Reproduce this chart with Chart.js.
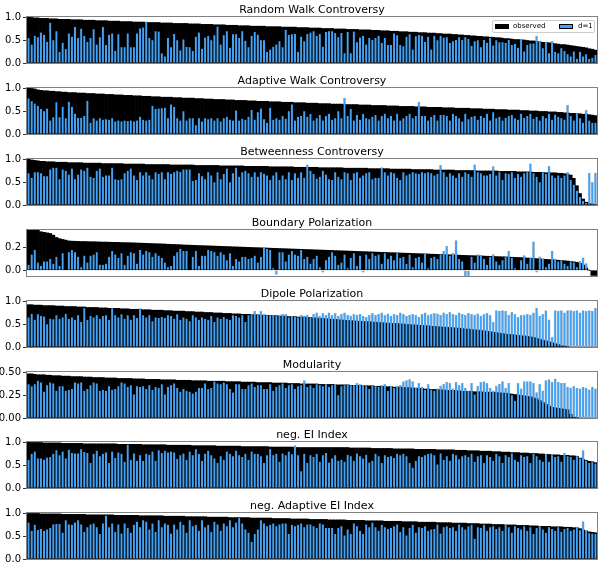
<!DOCTYPE html>
<html>
<head>
<meta charset="utf-8">
<script src="https://cdn.jsdelivr.net/npm/chart.js@4.4.1/dist/chart.umd.min.js"></script>
<style>
  body { margin: 0; background: #fff; }
  #figure { position: relative; width: 598px; height: 569px; overflow: hidden; font-family: "DejaVu Sans", sans-serif; }
  .panel { position: absolute; left: 0; width: 598px; height: 71px; }
  .panel canvas { position: absolute; left: 0; top: 0; }
  .title { position: absolute; left: 27px; width: 570px; top: 3px; text-align: center; font-size: 11px; line-height: 13px; color: #000; white-space: nowrap; }
  .legend { position: absolute; left: 492px; top: 20px; width: 101px; height: 11px; border: 1px solid #cccccc; border-radius: 2px; background: rgba(255,255,255,0.85); font-size: 7px; line-height: 11px; color: #000; }
  .legend .patch { position: absolute; top: 3px; width: 14px; height: 5px; box-sizing: border-box; }
  .legend .label { position: absolute; top: 0; white-space: nowrap; }
</style>
</head>
<body>
<div id="figure"></div>
<script>
// panel titles and axis settings
const titles = [
  "Random Walk Controversy", "Adaptive Walk Controversy", "Betweenness Controversy",
  "Boundary Polarization", "Dipole Polarization", "Modularity",
  "neg. EI Index", "neg. Adaptive EI Index"
];
const yMins = [0, 0, 0, -0.05, 0, 0, 0, 0];
const yMaxs = [1, 1, 1, 0.35, 1, 0.5, 1, 1];
const yTicks = [
  [0, 0.5, 1], [0, 0.5, 1], [0, 0.5, 1], [0, 0.2],
  [0, 0.5, 1], [0, 0.25, 0.5], [0, 0.5, 1], [0, 0.5, 1]
];
const tickDecimals = [1, 1, 1, 1, 1, 2, 1, 1];
const seriesNames = ["observed", "d=1"];

// Random Walk Controversy
const rwObserved = [
  1.00,0.99,0.98,0.98,0.97,0.97,0.97,0.96,0.96,0.96,
  0.95,0.95,0.95,0.95,0.94,0.94,0.94,0.94,0.93,0.93,
  0.93,0.93,0.92,0.92,0.92,0.92,0.91,0.91,0.91,0.91,
  0.90,0.90,0.90,0.90,0.89,0.89,0.89,0.89,0.88,0.88,
  0.88,0.88,0.88,0.87,0.87,0.87,0.87,0.86,0.86,0.86,
  0.86,0.86,0.85,0.85,0.85,0.85,0.84,0.84,0.84,0.84,
  0.83,0.83,0.83,0.83,0.82,0.82,0.82,0.82,0.81,0.81,
  0.81,0.81,0.80,0.80,0.80,0.80,0.80,0.79,0.79,0.79,
  0.79,0.79,0.78,0.78,0.78,0.78,0.78,0.77,0.77,0.77,
  0.77,0.76,0.76,0.76,0.76,0.75,0.75,0.75,0.75,0.74,
  0.74,0.74,0.74,0.73,0.73,0.73,0.73,0.72,0.72,0.72,
  0.72,0.71,0.71,0.71,0.70,0.70,0.70,0.69,0.69,0.69,
  0.68,0.68,0.68,0.67,0.67,0.67,0.66,0.66,0.66,0.65,
  0.65,0.65,0.64,0.64,0.63,0.63,0.63,0.62,0.62,0.61,
  0.61,0.60,0.60,0.59,0.59,0.58,0.58,0.57,0.57,0.56,
  0.56,0.55,0.55,0.54,0.53,0.53,0.52,0.51,0.51,0.50,
  0.50,0.49,0.48,0.48,0.47,0.46,0.45,0.45,0.44,0.43,
  0.42,0.41,0.40,0.40,0.39,0.38,0.37,0.36,0.35,0.34,
  0.33,0.31,0.30,0.28
];
const rwD1 = [
  0.55,0.41,0.60,0.57,0.67,0.62,0.47,0.88,0.50,0.70,
  0.25,0.45,0.31,0.65,0.58,0.79,0.55,0.75,0.60,0.47,
  0.55,0.74,0.41,0.57,0.79,0.40,0.62,0.65,0.27,0.63,
  0.35,0.35,0.65,0.35,0.35,0.65,0.76,0.78,0.90,0.55,
  0.50,0.70,0.69,0.22,0.15,0.55,0.35,0.64,0.50,0.28,
  0.52,0.36,0.35,0.27,0.58,0.67,0.32,0.56,0.60,0.50,
  0.61,0.80,0.41,0.61,0.70,0.34,0.63,0.63,0.55,0.70,
  0.49,0.35,0.60,0.68,0.62,0.50,0.50,0.25,0.30,0.36,
  0.41,0.48,0.35,0.73,0.62,0.63,0.64,0.25,
  0.58,0.48,0.64,0.67,0.70,0.60,0.64,0.36,0.68,0.70,
  0.70,0.66,0.57,0.66,0.22,0.68,0.22,0.69,0.46,0.56,
  0.60,0.41,0.55,0.51,0.55,0.60,0.44,0.55,0.40,0.40,
  0.65,0.61,0.40,0.37,0.58,0.63,0.30,0.59,0.62,0.60,
  0.47,0.58,0.30,0.60,0.50,0.60,0.56,0.57,0.44,0.48,
  0.51,0.57,0.51,0.57,0.53,0.38,0.48,0.50,0.35,0.51,
  0.45,0.55,0.39,0.50,0.46,0.46,0.44,0.51,0.40,0.42,
  0.34,0.52,0.26,0.40,0.43,0.43,0.59,0.48,0.33,0.47,
  0.22,0.48,0.25,0.22,0.33,0.27,0.20,0.15,0.26,0.10,
  0.25,0.15,0.20,0.10,0.12,0.18
];

// Adaptive Walk Controversy
const awObserved = [
  1.00,0.99,0.98,0.96,0.95,0.94,0.94,0.93,0.93,0.92,
  0.92,0.91,0.91,0.90,0.90,0.90,0.89,0.89,0.89,0.88,
  0.88,0.88,0.87,0.87,0.87,0.86,0.86,0.86,0.85,0.85,
  0.85,0.84,0.84,0.84,0.83,0.83,0.83,0.82,0.82,0.82,
  0.81,0.81,0.81,0.80,0.80,0.80,0.80,0.79,0.79,0.79,
  0.78,0.78,0.78,0.78,0.77,0.77,0.77,0.76,0.76,0.76,
  0.75,0.75,0.75,0.75,0.74,0.74,0.74,0.73,0.73,0.73,
  0.73,0.72,0.72,0.72,0.71,0.71,0.71,0.71,0.70,0.70,
  0.70,0.70,0.69,0.69,0.69,0.69,0.68,0.68,0.68,0.68,
  0.67,0.67,0.67,0.67,0.66,0.66,0.66,0.66,0.65,0.65,
  0.65,0.65,0.64,0.64,0.64,0.64,0.64,0.63,0.63,0.63,
  0.63,0.62,0.62,0.62,0.62,0.62,0.61,0.61,0.61,0.61,
  0.60,0.60,0.60,0.60,0.60,0.59,0.59,0.59,0.59,0.58,
  0.58,0.58,0.58,0.58,0.57,0.57,0.57,0.57,0.56,0.56,
  0.56,0.56,0.56,0.55,0.55,0.55,0.55,0.54,0.54,0.54,
  0.54,0.53,0.53,0.53,0.53,0.52,0.52,0.52,0.52,0.51,
  0.51,0.51,0.50,0.50,0.50,0.49,0.49,0.49,0.48,0.48,
  0.48,0.47,0.47,0.46,0.46,0.45,0.45,0.44,0.44,0.43,
  0.43,0.42,0.41,0.40
];
const awD1 = [
  0.78,0.72,0.67,0.62,0.55,0.50,0.56,0.30,0.37,0.70,
  0.37,0.60,0.35,0.71,0.60,0.45,0.36,0.36,0.40,0.73,
  0.25,0.35,0.30,0.35,0.32,0.33,0.32,0.35,0.28,0.30,
  0.28,0.30,0.29,0.30,0.28,0.30,0.38,0.32,0.30,0.32,
  0.62,0.55,0.56,0.57,0.58,0.35,0.65,0.60,0.35,0.30,
  0.50,0.30,0.35,0.35,0.20,0.35,0.28,0.35,0.33,0.35,
  0.30,0.35,0.28,0.35,0.38,0.32,0.30,0.52,0.30,0.34,
  0.32,0.38,0.53,0.32,0.48,0.56,0.33,0.25,0.58,0.32,
  0.35,0.32,0.40,0.34,0.50,0.65,0.30,0.38,
  0.40,0.50,0.38,0.44,0.30,0.35,0.42,0.30,0.40,0.45,
  0.32,0.35,0.50,0.35,0.78,0.40,0.55,0.30,0.42,0.32,
  0.44,0.35,0.33,0.38,0.42,0.30,0.40,0.45,0.35,0.40,
  0.30,0.45,0.30,0.35,0.40,0.45,0.35,0.40,0.70,0.40,
  0.40,0.30,0.38,0.42,0.30,0.42,0.42,0.40,0.30,0.45,
  0.40,0.35,0.28,0.45,0.33,0.38,0.40,0.32,0.40,0.36,
  0.45,0.30,0.48,0.35,0.38,0.30,0.36,0.40,0.42,0.35,
  0.32,0.45,0.36,0.40,0.44,0.34,0.38,0.30,0.40,0.35,
  0.44,0.32,0.43,0.38,0.35,0.32,0.63,0.40,0.30,0.44,
  0.35,0.25,0.52,0.30,0.25,0.25
];

// Betweenness Controversy
const betObserved = [
  1.00,0.98,0.97,0.96,0.95,0.95,0.94,0.94,0.94,0.93,
  0.93,0.93,0.93,0.92,0.92,0.92,0.92,0.92,0.91,0.91,
  0.91,0.91,0.91,0.91,0.90,0.90,0.90,0.90,0.90,0.90,
  0.90,0.89,0.89,0.89,0.89,0.89,0.89,0.89,0.88,0.88,
  0.88,0.88,0.88,0.88,0.88,0.88,0.87,0.87,0.87,0.87,
  0.87,0.87,0.87,0.87,0.86,0.86,0.86,0.86,0.86,0.86,
  0.86,0.86,0.85,0.85,0.85,0.85,0.85,0.85,0.85,0.85,
  0.84,0.84,0.84,0.84,0.84,0.84,0.84,0.84,0.83,0.83,
  0.83,0.83,0.83,0.83,0.83,0.83,0.82,0.82,0.82,0.82,
  0.82,0.82,0.82,0.82,0.81,0.81,0.81,0.81,0.81,0.81,
  0.81,0.81,0.80,0.80,0.80,0.80,0.80,0.80,0.80,0.80,
  0.79,0.79,0.79,0.79,0.79,0.79,0.79,0.78,0.78,0.78,
  0.78,0.78,0.78,0.78,0.77,0.77,0.77,0.77,0.77,0.77,
  0.77,0.76,0.76,0.76,0.76,0.76,0.76,0.76,0.75,0.75,
  0.75,0.75,0.75,0.75,0.75,0.74,0.74,0.74,0.74,0.74,
  0.74,0.74,0.73,0.73,0.73,0.73,0.73,0.73,0.72,0.72,
  0.72,0.72,0.72,0.71,0.71,0.71,0.71,0.70,0.70,0.70,
  0.70,0.69,0.69,0.68,0.67,0.65,0.58,0.42,0.25,0.13,
  0.06,0.03,0.02,0.01
];
const betD1 = [
  0.70,0.60,0.72,0.72,0.70,0.63,0.63,0.78,0.82,0.82,
  0.57,0.78,0.75,0.67,0.80,0.57,0.67,0.78,0.75,0.82,
  0.62,0.60,0.75,0.80,0.62,0.65,0.65,0.82,0.57,0.55,
  0.57,0.70,0.75,0.80,0.65,0.55,0.72,0.65,0.72,0.65,
  0.57,0.72,0.68,0.72,0.57,0.72,0.68,0.72,0.75,0.73,
  0.78,0.78,0.78,0.53,0.55,0.70,0.63,0.57,0.72,0.65,
  0.50,0.72,0.57,0.68,0.80,0.50,0.70,0.82,0.62,0.72,
  0.75,0.70,0.62,0.72,0.62,0.72,0.68,0.65,0.55,0.65,
  0.72,0.55,0.65,0.57,0.72,0.55,0.70,0.60,0.72,0.60,
  0.88,0.75,0.68,0.58,0.62,0.75,0.67,0.57,0.55,0.72,
  0.62,0.57,0.72,0.70,0.55,0.70,0.72,0.60,0.65,0.70,
  0.72,0.57,0.60,0.60,0.82,0.72,0.65,0.72,0.70,0.60,
  0.55,0.72,0.65,0.68,0.72,0.70,0.68,0.72,0.70,0.72,
  0.70,0.65,0.68,0.87,0.72,0.62,0.70,0.65,0.60,0.70,
  0.62,0.72,0.68,0.62,0.88,0.72,0.70,0.65,0.65,0.68,
  0.84,0.65,0.72,0.55,0.70,0.68,0.72,0.60,0.68,0.62,
  0.70,0.72,0.90,0.70,0.62,0.50,0.72,0.68,0.85,0.65,
  0.60,0.65,0.60,0.65,0.72,0.55,0.45,0.32,0.18,0.10,
  0.05,0.70,0.50,0.70
];

// Boundary Polarization
const bpObserved = [
  0.350,0.350,0.350,0.349,0.335,0.330,0.325,0.320,0.305,0.285,
  0.275,0.268,0.262,0.255,0.253,0.252,0.251,0.250,0.250,0.249,
  0.248,0.248,0.247,0.246,0.245,0.245,0.244,0.243,0.243,0.242,
  0.241,0.240,0.240,0.239,0.238,0.237,0.236,0.235,0.234,0.233,
  0.232,0.231,0.230,0.229,0.228,0.226,0.225,0.224,0.223,0.222,
  0.220,0.219,0.218,0.217,0.216,0.215,0.214,0.213,0.212,0.211,
  0.210,0.209,0.208,0.207,0.206,0.205,0.204,0.203,0.202,0.201,
  0.200,0.199,0.198,0.197,0.196,0.195,0.194,0.193,0.192,0.191,
  0.190,0.189,0.188,0.187,0.186,0.185,0.184,0.183,0.182,0.181,
  0.180,0.179,0.178,0.177,0.176,0.175,0.174,0.173,0.172,0.171,
  0.170,0.169,0.168,0.167,0.166,0.165,0.164,0.163,0.162,0.161,
  0.160,0.159,0.158,0.157,0.156,0.155,0.154,0.153,0.152,0.151,
  0.150,0.149,0.148,0.147,0.146,0.145,0.144,0.143,0.142,0.141,
  0.140,0.139,0.138,0.137,0.136,0.135,0.134,0.133,0.132,0.131,
  0.130,0.129,0.128,0.127,0.126,0.125,0.124,0.123,0.122,0.121,
  0.120,0.119,0.118,0.117,0.116,0.115,0.113,0.112,0.111,0.110,
  0.108,0.106,0.105,0.103,0.101,0.099,0.097,0.095,0.093,0.091,
  0.089,0.087,0.085,0.083,0.080,0.077,0.073,0.068,0.060,0.045,
  0.020,0.000,-0.045,-0.045
];
const bpD1 = [
  0.05,0.14,0.18,0.07,0.04,0.08,0.08,0.10,0.06,0.12,
  0.04,0.15,0.00,0.16,0.18,0.16,0.12,0.03,0.13,0.07,
  0.13,0.14,0.16,0.05,0.05,0.06,0.12,0.17,0.14,0.11,
  0.15,0.05,0.13,0.16,0.15,0.06,0.18,0.14,0.17,0.16,
  0.12,0.15,0.13,0.11,0.07,0.03,0.04,0.13,0.16,0.19,
  0.17,0.17,0.00,0.12,0.17,0.04,0.13,0.13,0.18,0.17,
  0.16,0.13,0.16,0.14,0.09,0.15,0.04,0.10,0.08,0.12,
  0.12,0.10,0.11,0.13,0.07,0.12,0.20,0.19,0.18,0.02,
  -0.04,0.16,0.16,0.08,0.14,0.17,0.14,0.13,
  0.18,0.10,0.12,0.06,0.10,0.13,0.03,-0.02,0.09,0.12,
  0.16,0.13,0.05,0.07,0.14,0.02,0.11,0.15,0.04,0.13,
  -0.02,0.14,0.10,0.15,0.13,0.14,0.06,0.15,0.10,0.13,
  0.09,0.15,0.11,0.12,0.06,0.14,0.03,0.11,0.12,0.07,
  0.15,0.02,0.11,0.12,0.10,0.14,0.17,0.21,0.13,0.15,
  0.26,0.10,0.08,-0.05,-0.05,0.12,0.07,0.14,0.13,0.10,
  0.05,0.12,0.14,0.08,0.05,0.09,0.12,0.17,0.11,0.02,
  0.00,0.09,0.13,0.06,0.11,0.25,-0.02,0.12,0.10,0.03,
  0.06,0.17,0.10,0.08,0.09,0.06,0.04,0.08,0.07,0.03,
  0.08,0.11,0.06,0.01,0.00,0.00
];

// Dipole Polarization
const dipObserved = [
  0.92,0.92,0.91,0.91,0.91,0.90,0.90,0.90,0.90,0.89,
  0.89,0.89,0.88,0.88,0.88,0.88,0.87,0.87,0.87,0.86,
  0.86,0.86,0.86,0.85,0.85,0.85,0.84,0.84,0.84,0.84,
  0.83,0.83,0.83,0.82,0.82,0.82,0.82,0.81,0.81,0.81,
  0.80,0.80,0.80,0.80,0.79,0.79,0.79,0.78,0.78,0.78,
  0.78,0.77,0.77,0.77,0.76,0.76,0.76,0.75,0.75,0.75,
  0.74,0.74,0.74,0.73,0.73,0.73,0.72,0.72,0.72,0.71,
  0.71,0.71,0.70,0.70,0.70,0.69,0.69,0.69,0.68,0.68,
  0.68,0.67,0.67,0.67,0.66,0.66,0.66,0.65,0.65,0.65,
  0.64,0.64,0.63,0.63,0.62,0.62,0.61,0.61,0.60,0.60,
  0.59,0.59,0.58,0.58,0.57,0.57,0.56,0.56,0.55,0.55,
  0.55,0.54,0.54,0.53,0.53,0.52,0.52,0.51,0.51,0.51,
  0.50,0.50,0.49,0.49,0.48,0.48,0.47,0.47,0.46,0.46,
  0.45,0.45,0.44,0.44,0.43,0.43,0.42,0.42,0.41,0.41,
  0.40,0.39,0.39,0.38,0.37,0.37,0.36,0.35,0.34,0.33,
  0.32,0.31,0.30,0.29,0.28,0.27,0.27,0.26,0.25,0.24,
  0.24,0.23,0.22,0.21,0.19,0.17,0.15,0.13,0.11,0.09,
  0.07,0.05,0.03,0.02,0.01,0.00,0.00,0.00,0.00,0.00,
  0.00,0.00,0.00,0.00
];
const dipD1 = [
  0.65,0.73,0.60,0.72,0.68,0.67,0.50,0.62,0.61,0.70,
  0.62,0.65,0.73,0.62,0.65,0.60,0.70,0.55,0.85,0.60,
  0.68,0.65,0.70,0.62,0.68,0.70,0.60,0.85,0.70,0.65,
  0.72,0.62,0.70,0.60,0.70,0.64,0.84,0.70,0.65,0.70,
  0.57,0.65,0.64,0.66,0.64,0.70,0.68,0.62,0.72,0.60,
  0.65,0.62,0.57,0.70,0.65,0.60,0.65,0.62,0.60,0.68,
  0.55,0.65,0.62,0.66,0.62,0.60,0.70,0.68,0.65,0.70,
  0.55,0.70,0.70,0.78,0.72,0.78,0.72,0.70,0.68,0.70,
  0.68,0.70,0.72,0.72,0.65,0.68,0.66,0.65,
  0.70,0.68,0.70,0.65,0.72,0.75,0.68,0.74,0.70,0.75,
  0.70,0.74,0.68,0.72,0.75,0.70,0.68,0.72,0.70,0.72,
  0.68,0.65,0.70,0.74,0.70,0.72,0.75,0.70,0.73,0.68,
  0.72,0.70,0.75,0.72,0.68,0.70,0.72,0.70,0.66,0.72,
  0.75,0.70,0.72,0.74,0.73,0.70,0.75,0.72,0.76,0.72,
  0.70,0.75,0.72,0.70,0.74,0.72,0.70,0.73,0.68,0.72,
  0.74,0.70,0.55,0.80,0.78,0.80,0.78,0.70,0.76,0.72,
  0.65,0.70,0.70,0.72,0.70,0.75,0.85,0.68,0.72,0.80,
  0.60,0.22,0.80,0.78,0.80,0.75,0.80,0.80,0.78,0.80,
  0.75,0.80,0.78,0.80,0.78,0.85
];

// Modularity
const modObserved = [
  0.480,0.480,0.475,0.470,0.470,0.470,0.465,0.465,0.460,0.460,
  0.460,0.455,0.455,0.455,0.450,0.450,0.450,0.450,0.445,0.445,
  0.445,0.440,0.440,0.440,0.440,0.435,0.435,0.435,0.435,0.430,
  0.430,0.430,0.430,0.430,0.425,0.425,0.425,0.425,0.420,0.420,
  0.420,0.420,0.420,0.415,0.415,0.415,0.415,0.415,0.410,0.410,
  0.410,0.410,0.410,0.405,0.405,0.405,0.405,0.405,0.400,0.400,
  0.400,0.400,0.400,0.400,0.395,0.395,0.395,0.395,0.395,0.390,
  0.390,0.390,0.390,0.390,0.385,0.385,0.385,0.385,0.385,0.380,
  0.380,0.380,0.380,0.380,0.375,0.375,0.375,0.375,0.370,0.370,
  0.370,0.370,0.370,0.370,0.365,0.365,0.365,0.365,0.365,0.360,
  0.360,0.360,0.360,0.360,0.355,0.355,0.355,0.355,0.350,0.350,
  0.350,0.350,0.345,0.345,0.345,0.340,0.340,0.340,0.335,0.335,
  0.335,0.330,0.330,0.330,0.325,0.325,0.320,0.320,0.315,0.315,
  0.310,0.310,0.310,0.305,0.305,0.300,0.300,0.300,0.295,0.295,
  0.290,0.290,0.290,0.290,0.285,0.285,0.285,0.280,0.280,0.280,
  0.280,0.275,0.275,0.270,0.270,0.265,0.260,0.255,0.250,0.245,
  0.240,0.235,0.230,0.220,0.210,0.190,0.170,0.150,0.130,0.115,
  0.110,0.105,0.100,0.095,0.090,0.040,0.010,0.005,0.000,0.000,
  0.000,0.000,0.000,0.000
];
const modD1 = [
  0.37,0.35,0.37,0.41,0.39,0.29,0.36,0.39,0.38,0.30,
  0.35,0.35,0.30,0.31,0.32,0.39,0.38,0.39,0.30,0.32,
  0.36,0.39,0.38,0.30,0.31,0.30,0.35,0.31,0.32,0.35,
  0.39,0.38,0.34,0.36,0.26,0.35,0.34,0.35,0.32,0.36,
  0.31,0.34,0.33,0.37,0.26,0.34,0.36,0.38,0.33,0.29,
  0.32,0.30,0.29,0.27,0.29,0.33,0.33,0.38,0.32,0.33,
  0.40,0.38,0.37,0.39,0.37,0.32,0.28,0.37,0.37,0.32,
  0.32,0.36,0.38,0.34,0.36,0.36,0.32,0.32,0.37,0.30,
  0.34,0.36,0.38,0.33,0.36,0.37,0.32,0.35,0.36,0.41,
  0.34,0.36,0.33,0.37,0.36,0.35,0.37,0.34,0.36,0.37,
  0.25,0.35,0.36,0.37,0.36,0.36,0.38,0.37,0.36,0.35,
  0.32,0.36,0.35,0.34,0.36,0.37,0.30,0.35,0.33,0.35,
  0.36,0.40,0.41,0.42,0.40,0.33,0.38,0.34,0.31,0.37,
  0.31,0.30,0.32,0.35,0.37,0.39,0.38,0.32,0.39,0.36,
  0.38,0.33,0.30,0.38,0.26,0.35,0.39,0.40,0.38,0.33,
  0.30,0.35,0.37,0.40,0.33,0.38,0.25,0.19,0.38,0.32,
  0.40,0.40,0.40,0.38,0.28,0.37,0.30,0.41,0.42,0.39,
  0.43,0.39,0.38,0.38,0.34,0.33,0.35,0.33,0.32,0.34,
  0.33,0.31,0.34,0.32
];

// neg. EI Index
const eiObserved = [
  1.00,0.99,0.99,0.99,0.99,0.98,0.98,0.98,0.98,0.98,
  0.98,0.97,0.97,0.97,0.97,0.97,0.97,0.97,0.96,0.96,
  0.96,0.96,0.96,0.96,0.96,0.96,0.96,0.96,0.96,0.95,
  0.95,0.95,0.95,0.95,0.95,0.95,0.95,0.94,0.94,0.94,
  0.94,0.94,0.94,0.94,0.94,0.93,0.93,0.93,0.93,0.93,
  0.93,0.93,0.93,0.92,0.92,0.92,0.92,0.92,0.92,0.92,
  0.92,0.91,0.91,0.91,0.91,0.91,0.91,0.91,0.91,0.90,
  0.90,0.90,0.90,0.90,0.90,0.90,0.90,0.90,0.89,0.89,
  0.89,0.89,0.89,0.89,0.89,0.89,0.88,0.88,0.88,0.88,
  0.88,0.88,0.88,0.88,0.88,0.88,0.88,0.88,0.88,0.88,
  0.88,0.88,0.88,0.88,0.87,0.87,0.87,0.87,0.87,0.87,
  0.87,0.86,0.86,0.86,0.86,0.86,0.86,0.86,0.85,0.85,
  0.85,0.85,0.85,0.85,0.85,0.84,0.84,0.84,0.84,0.84,
  0.84,0.84,0.83,0.83,0.83,0.83,0.83,0.83,0.82,0.82,
  0.82,0.82,0.81,0.81,0.81,0.81,0.80,0.80,0.80,0.80,
  0.79,0.79,0.79,0.78,0.78,0.78,0.77,0.77,0.77,0.76,
  0.76,0.76,0.75,0.75,0.75,0.74,0.74,0.73,0.73,0.72,
  0.72,0.72,0.71,0.71,0.71,0.70,0.70,0.69,0.65,0.62,
  0.60,0.58,0.57,0.55
];
const eiD1 = [
  0.62,0.75,0.80,0.65,0.65,0.62,0.67,0.68,0.75,0.83,
  0.72,0.80,0.65,0.84,0.77,0.76,0.76,0.85,0.79,0.77,
  0.55,0.75,0.82,0.70,0.75,0.78,0.55,0.80,0.66,0.78,
  0.75,0.58,0.95,0.62,0.76,0.60,0.72,0.60,0.75,0.73,
  0.80,0.60,0.83,0.77,0.82,0.78,0.80,0.78,0.64,0.72,
  0.76,0.62,0.80,0.72,0.85,0.75,0.60,0.75,0.82,0.72,
  0.65,0.55,0.70,0.62,0.80,0.75,0.70,0.82,0.72,0.68,
  0.75,0.62,0.80,0.75,0.75,0.70,0.55,0.72,0.85,0.72,
  0.75,0.58,0.76,0.72,0.80,0.74,0.93,0.72,0.37,0.75,
  0.55,0.72,0.68,0.75,0.58,0.72,0.77,0.56,0.65,0.72,
  0.60,0.62,0.58,0.73,0.70,0.60,0.76,0.70,0.65,0.73,
  0.56,0.60,0.75,0.70,0.55,0.72,0.68,0.70,0.66,0.75,
  0.72,0.75,0.70,0.55,0.45,0.60,0.70,0.68,0.72,0.75,
  0.76,0.72,0.52,0.76,0.62,0.70,0.60,0.75,0.72,0.63,
  0.70,0.72,0.68,0.75,0.58,0.70,0.72,0.55,0.72,0.68,
  0.60,0.75,0.70,0.55,0.72,0.68,0.76,0.62,0.58,0.72,
  0.68,0.70,0.55,0.75,0.70,0.62,0.58,0.75,0.58,0.72,
  0.68,0.70,0.58,0.76,0.70,0.68,0.62,0.70,0.65,0.82,
  0.60,0.55,0.57,0.54
];

// neg. Adaptive EI Index
const aeiObserved = [
  0.99,0.99,0.99,0.99,0.98,0.98,0.98,0.98,0.98,0.98,
  0.98,0.97,0.97,0.97,0.97,0.97,0.97,0.97,0.97,0.96,
  0.96,0.96,0.96,0.96,0.96,0.96,0.96,0.96,0.95,0.95,
  0.95,0.95,0.95,0.95,0.95,0.95,0.94,0.94,0.94,0.94,
  0.94,0.94,0.94,0.94,0.93,0.93,0.93,0.93,0.93,0.93,
  0.93,0.92,0.92,0.92,0.92,0.92,0.92,0.92,0.91,0.91,
  0.91,0.91,0.91,0.91,0.91,0.90,0.90,0.90,0.90,0.90,
  0.90,0.90,0.89,0.89,0.89,0.89,0.89,0.89,0.89,0.88,
  0.88,0.88,0.88,0.88,0.88,0.87,0.87,0.87,0.87,0.87,
  0.87,0.86,0.86,0.86,0.86,0.86,0.86,0.85,0.85,0.85,
  0.85,0.85,0.85,0.84,0.84,0.84,0.84,0.84,0.84,0.83,
  0.83,0.83,0.83,0.83,0.83,0.82,0.82,0.82,0.82,0.82,
  0.82,0.81,0.81,0.81,0.81,0.81,0.80,0.80,0.80,0.80,
  0.80,0.80,0.79,0.79,0.79,0.79,0.79,0.78,0.78,0.78,
  0.78,0.78,0.77,0.77,0.77,0.77,0.76,0.76,0.76,0.76,
  0.75,0.75,0.75,0.75,0.74,0.74,0.74,0.74,0.73,0.73,
  0.73,0.73,0.72,0.72,0.72,0.71,0.71,0.71,0.71,0.70,
  0.70,0.70,0.70,0.69,0.69,0.69,0.68,0.68,0.66,0.63,
  0.61,0.59,0.58,0.57
];
const aeiD1 = [
  0.80,0.62,0.75,0.64,0.66,0.62,0.65,0.68,0.76,0.77,
  0.77,0.58,0.85,0.76,0.75,0.80,0.85,0.76,0.60,0.70,
  0.76,0.78,0.70,0.55,0.78,0.95,0.70,0.78,0.60,0.76,
  0.56,0.78,0.68,0.58,0.75,0.82,0.70,0.85,0.82,0.65,
  0.78,0.60,0.85,0.70,0.78,0.75,0.56,0.76,0.65,0.82,
  0.75,0.58,0.85,0.72,0.75,0.62,0.85,0.70,0.75,0.60,
  0.82,0.76,0.62,0.78,0.72,0.85,0.70,0.80,0.90,0.78,
  0.65,0.58,0.38,0.55,0.65,0.85,0.78,0.72,0.75,0.78,
  0.72,0.76,0.78,0.78,0.55,0.75,0.72,0.75,0.78,0.70,
  0.76,0.76,0.72,0.68,0.78,0.76,0.68,0.68,0.68,0.55,
  0.68,0.72,0.52,0.65,0.55,0.78,0.72,0.62,0.55,0.76,
  0.70,0.80,0.70,0.62,0.75,0.70,0.66,0.68,0.72,0.76,
  0.60,0.70,0.52,0.68,0.75,0.58,0.70,0.68,0.72,0.62,
  0.65,0.66,0.76,0.56,0.70,0.72,0.68,0.70,0.62,0.76,
  0.70,0.65,0.72,0.75,0.45,0.70,0.68,0.75,0.62,0.70,
  0.72,0.66,0.70,0.62,0.75,0.70,0.58,0.72,0.68,0.65,
  0.72,0.62,0.70,0.55,0.68,0.72,0.65,0.58,0.70,0.66,
  0.62,0.70,0.60,0.66,0.68,0.62,0.65,0.70,0.63,0.82,
  0.62,0.57,0.56,0.55
];

const observedSeries = [rwObserved, awObserved, betObserved, bpObserved, dipObserved, modObserved, eiObserved, aeiObserved];
const d1Series = [rwD1, awD1, betD1, bpD1, dipD1, modD1, eiD1, aeiD1];

const panelTops = [0, 71, 142, 213, 284, 355, 425, 496];
const fontFamily = "'DejaVu Sans', sans-serif";
const blue = '#44a2f4';

// draws the full box round the plot area, like matplotlib spines
const framePlugin = {
  id: 'frame',
  afterDraw(chart) {
    const { ctx, chartArea: a } = chart;
    ctx.save();
    ctx.strokeStyle = '#808080';
    ctx.lineWidth = 1;
    const l = Math.round(a.left) - 0.5, t = Math.round(a.top) - 0.5;
    const r = Math.round(a.right) + 0.5, b = Math.round(a.bottom) + 0.5;
    ctx.strokeRect(l, t, r - l, b - t);
    ctx.restore();
  }
};

const figure = document.getElementById('figure');

titles.forEach((title, k) => {
  const observed = observedSeries[k];
  const d1 = d1Series[k];
  if (observed.length !== d1.length) console.warn('length mismatch', title, observed.length, d1.length);

  const panel = document.createElement('div');
  panel.className = 'panel';
  panel.style.top = panelTops[k] + 'px';
  const canvas = document.createElement('canvas');
  canvas.width = 598;
  canvas.height = 71;
  panel.appendChild(canvas);
  const titleDiv = document.createElement('div');
  titleDiv.className = 'title';
  titleDiv.textContent = title;
  panel.appendChild(titleDiv);
  figure.appendChild(panel);

  const ticks = yTicks[k];
  const decimals = tickDecimals[k];

  new Chart(canvas, {
    type: 'bar',
    data: {
      labels: observed.map((_, i) => String(i + 1)),
      datasets: [
        {
          label: seriesNames[0],
          data: observed,
          backgroundColor: '#000000',
          borderWidth: 0,
          barPercentage: 1,
          categoryPercentage: 1,
          grouped: false,
          order: 2
        },
        {
          label: seriesNames[1],
          data: d1,
          backgroundColor: blue,
          borderColor: 'rgba(0,0,0,0.55)',
          borderWidth: 0.35,
          barPercentage: 0.88,
          categoryPercentage: 1,
          grouped: false,
          order: 1
        }
      ]
    },
    options: {
      responsive: false,
      animation: false,
      devicePixelRatio: 1,
      layout: { padding: { top: 17, bottom: 2, left: 0, right: 1 } },
      plugins: {
        legend: { display: false },
        title: { display: false },
        tooltip: { enabled: false }
      },
      scales: {
        x: { display: false, offset: true },
        y: {
          min: yMins[k],
          max: yMaxs[k],
          afterFit: (scale) => { scale.width = 27; },
          afterBuildTicks: (scale) => { scale.ticks = ticks.map((v) => ({ value: v })); },
          ticks: {
            color: '#000',
            padding: 2,
            font: { family: fontFamily, size: 10 },
            callback: (v) => Number(v).toFixed(decimals)
          },
          grid: { drawOnChartArea: false, drawTicks: true, tickLength: 4, color: '#333', lineWidth: 1 },
          border: { display: false }
        }
      }
    },
    plugins: [framePlugin]
  });

  // legend sits inside the first panel, upper right
  if (k === 0) {
    const legend = document.createElement('div');
    legend.className = 'legend';
    legend.innerHTML =
      '<span class="patch" style="left:2px;background:#000"></span>' +
      '<span class="label" style="left:20px">' + seriesNames[0] + '</span>' +
      '<span class="patch" style="left:66px;background:' + blue + ';border:1px solid #000"></span>' +
      '<span class="label" style="left:85px">' + seriesNames[1] + '</span>';
    panel.appendChild(legend);
  }
});
</script>
</body>
</html>
